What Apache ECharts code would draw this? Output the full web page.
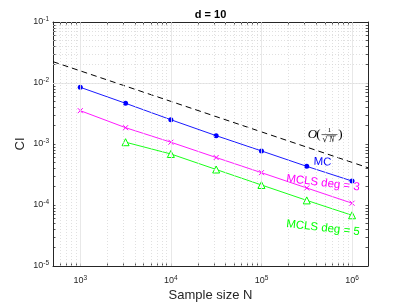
<!DOCTYPE html>
<html><head><meta charset="utf-8">
<script src="https://cdn.jsdelivr.net/npm/echarts@6/dist/echarts.min.js"></script>
<style>html,body{margin:0;padding:0;background:#fff}#c{width:407px;height:305px}</style>
</head><body><div id="c"></div>
<script>
// ---- data ----
const sampleN = [1e3, 3162, 1e4, 31623, 1e5, 316228, 1e6];
const ciMC    = [8.5e-3, 4.65e-3, 2.5e-3, 1.37e-3, 7.7e-4, 4.3e-4, 2.47e-4];
const ciDeg3  = [3.52e-3, 1.85e-3, 1.07e-3, 6.0e-4, 3.39e-4, 1.9e-4, 1.07e-4];
const ciDeg5  = [null, 1.07e-3, 6.86e-4, 3.82e-4, 2.13e-4, 1.19e-4, 6.78e-5];
const refN    = [500, 1.5e6];
const refCI   = [0.02236, 4.08e-4];
const xMajor  = [1e3, 1e4, 1e5, 1e6];
const yMajor  = [1e-5, 1e-4, 1e-3, 1e-2, 1e-1];
const xRange  = [500, 1.5e6];
const yRange  = [1e-5, 1e-1];
const seriesNames = ['MC', 'MCLS deg = 3', 'MCLS deg = 5'];

function minorVals(lo, hi) {
  const out = [];
  for (let e = Math.floor(Math.log10(lo)); e <= Math.ceil(Math.log10(hi)); e++) {
    for (let m = 2; m <= 9; m++) {
      const v = +(m * Math.pow(10, e)).toPrecision(6);
      if (v > lo && v < hi) out.push(v);
    }
  }
  return out;
}
const xMinor = minorVals(xRange[0], xRange[1]);
const yMinor = minorVals(yRange[0], yRange[1]);
const pairs = (xs, ys) => xs.map((x, i) => [x, ys[i]]).filter(p => p[1] != null);

const axisColor = '#262626';
const supFmt = v => '10{s|' + Math.round(Math.log10(v)) + '}';
const labelRich = { s: { fontSize: 6.5, verticalAlign: 'top', padding: [0, 0, 5, 0], color: axisColor, fontFamily: 'Liberation Sans' } };

function xAxisDef(pos, showLabel, showName) {
  return {
    type: 'log', logBase: 10, min: xRange[0], max: xRange[1], position: pos,
    name: showName ? 'Sample size N' : '', nameLocation: 'middle', nameGap: 23, nameMoveOverlap: false,
    nameTextStyle: { fontSize: 13, color: axisColor, fontFamily: 'Liberation Sans' },
    axisLine: { show: true, onZero: false, lineStyle: { color: axisColor, width: 1 } },
    axisTick: { show: true, inside: true, length: 2.5, customValues: xMajor.concat(xMinor), lineStyle: { color: axisColor, width: 0.8 } },
    axisLabel: { show: showLabel, customValues: xMajor, formatter: supFmt, rich: labelRich, fontSize: 9, color: axisColor, margin: 9, fontFamily: 'Liberation Sans' },
    splitLine: { show: false },
    minorTick: { show: false }, minorSplitLine: { show: false }
  };
}
function yAxisDef(pos, showLabel, showName) {
  return {
    type: 'log', logBase: 10, min: yRange[0], max: yRange[1], position: pos,
    name: showName ? 'CI' : '', nameLocation: 'middle', nameGap: 26, nameMoveOverlap: false,
    nameTextStyle: { fontSize: 13, color: axisColor, fontFamily: 'Liberation Sans' },
    axisLine: { show: true, onZero: false, lineStyle: { color: axisColor, width: 1 } },
    axisTick: { show: true, inside: true, length: 2.5, customValues: yMajor.concat(yMinor), lineStyle: { color: axisColor, width: 0.8 } },
    axisLabel: { show: showLabel, customValues: yMajor, formatter: supFmt, rich: labelRich, fontSize: 9, color: axisColor, margin: 4, fontFamily: 'Liberation Sans' },
    splitLine: { show: false },
    minorTick: { show: false }, minorSplitLine: { show: false }
  };
}

const chart = echarts.init(document.getElementById('c'), null, { renderer: 'canvas' });
const txt = (text, x, y, opts) => Object.assign({ type: 'text', x: x, y: y, z: 100,
  style: Object.assign({ text: text, fontFamily: 'Liberation Sans', align: 'center', verticalAlign: 'middle' }, opts.style || {}) }, opts.el || {});

chart.setOption({
  animation: false,
  backgroundColor: '#fff',
  grid: { left: 53, right: 39, top: 22, bottom: 39, containLabel: false, outerBoundsMode: 'none' },
  xAxis: [xAxisDef('bottom', true, true), xAxisDef('top', false, false)],
  yAxis: [yAxisDef('left', true, true), yAxisDef('right', false, false)],
  series: [
    { type: 'line', data: [], silent: true, xAxisIndex: 0, yAxisIndex: 0, z: 1,
      markLine: { silent: true, symbol: 'none', label: { show: false }, animation: false,
        lineStyle: { color: '#d2d2d2', type: [1, 2], width: 0.7 },
        data: xMinor.map(v => ({ xAxis: v })).concat(yMinor.map(v => ({ yAxis: v }))) } },
    { type: 'line', data: [], silent: true, xAxisIndex: 0, yAxisIndex: 0, z: 1,
      markLine: { silent: true, symbol: 'none', label: { show: false }, animation: false,
        lineStyle: { color: '#e2e2e2', type: 'solid', width: 0.8 },
        data: xMajor.map(v => ({ xAxis: v })).concat(yMajor.slice(1, -1).map(v => ({ yAxis: v }))) } },
    { name: 'ref', type: 'line', data: pairs(refN, refCI), symbol: 'none', z: 3,
      lineStyle: { color: '#000', width: 1, type: [6, 4] } },
    { name: seriesNames[0], type: 'line', data: pairs(sampleN, ciMC), symbol: 'circle', symbolSize: 5, z: 4,
      lineStyle: { color: '#0000ff', width: 0.9 }, itemStyle: { color: '#0000ff' } },
    { name: seriesNames[1], type: 'line', data: pairs(sampleN, ciDeg3), z: 4,
      symbol: 'path://M0,0L10,10M10,0L0,10', symbolSize: 5, symbolKeepAspect: true,
      lineStyle: { color: '#ff00ff', width: 0.9 }, itemStyle: { color: 'none', borderColor: '#ff00ff', borderWidth: 1 } },
    { name: seriesNames[2], type: 'line', data: pairs(sampleN, ciDeg5), z: 4,
      symbol: 'triangle', symbolSize: 7,
      lineStyle: { color: '#00ff00', width: 0.9 }, itemStyle: { color: '#ffffff', borderColor: '#00ff00', borderWidth: 1 } }
  ],
  graphic: [
    txt('d = 10', 210.5, 15, { style: { fontSize: 11, fontWeight: 'bold', fill: '#000' } }),
    txt(seriesNames[0], 322.5, 162, { style: { fontSize: 11.5, fill: '#0000ff' }, el: { rotation: -0.04 } }),
    txt(seriesNames[1], 323, 183, { style: { fontSize: 11.5, fill: '#ff00ff' }, el: { rotation: -0.12 } }),
    txt(seriesNames[2], 323, 228, { style: { fontSize: 11.5, fill: '#00ff00' }, el: { rotation: -0.11 } }),
    // O(1/sqrt(N))
    txt('O', 312.5, 135, { style: { fontSize: 13, fontStyle: 'italic', fontFamily: 'Liberation Serif', fill: '#000' } }),
    txt('(', 318.5, 135, { style: { fontSize: 13, fontFamily: 'Liberation Serif', fill: '#000' } }),
    txt('1', 329.5, 130.5, { style: { fontSize: 7, fontFamily: 'Liberation Serif', fill: '#000' } }),
    { type: 'line', z: 100, shape: { x1: 321.5, y1: 134.6, x2: 337.5, y2: 134.6 }, style: { stroke: '#000', lineWidth: 0.6 } },
    txt('√', 325, 139.5, { style: { fontSize: 8, fontFamily: 'DejaVu Serif', fill: '#000' } }),
    { type: 'line', z: 100, shape: { x1: 327.5, y1: 135.8, x2: 336, y2: 135.8 }, style: { stroke: '#000', lineWidth: 0.5 } },
    txt('N', 331.8, 140, { style: { fontSize: 7.5, fontStyle: 'italic', fontFamily: 'Liberation Serif', fill: '#000' } }),
    txt(')', 340.5, 135, { style: { fontSize: 13, fontFamily: 'Liberation Serif', fill: '#000' } })
  ]
});
</script>
</body></html>
